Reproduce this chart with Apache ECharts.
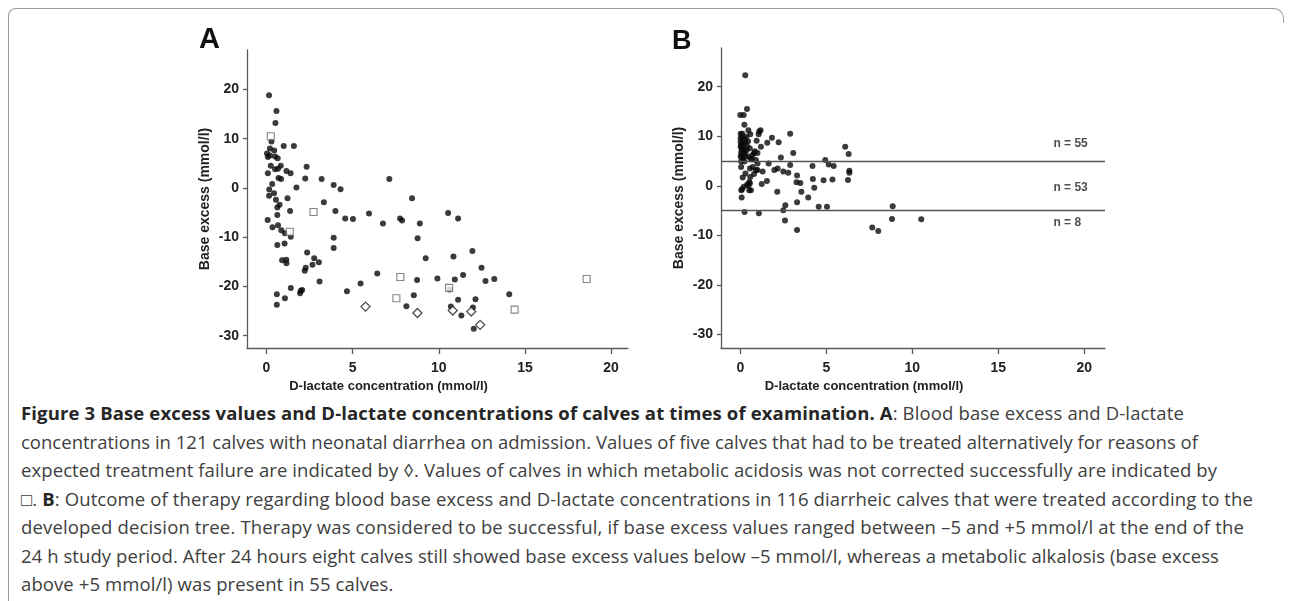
<!DOCTYPE html>
<html><head><meta charset="utf-8">
<script src="https://cdn.jsdelivr.net/npm/echarts@6/dist/echarts.min.js"></script>
<style>
html,body{margin:0;padding:0;background:#fff;}
#wrap{position:relative;width:1292px;height:601px;overflow:hidden;background:#fff;}
#chart{position:absolute;left:0;top:0;width:1292px;height:400px;}
#frame{position:absolute;left:8px;top:8px;width:1262px;height:700px;border-top:1px solid #9a9a9a;border-left:1px solid #9a9a9a;border-top-left-radius:8px;}
#corner{position:absolute;left:1270px;top:8px;width:13px;height:14px;border-top:1px solid #9a9a9a;border-right:1px solid #9a9a9a;border-top-right-radius:10px;}
.cap{position:absolute;left:21px;white-space:nowrap;font-family:'Open Sans',sans-serif;font-size:18.5px;line-height:22px;color:#404040;}
.cap b{color:#262626;}
</style></head>
<body><div id="wrap"><div id="frame"></div><div id="corner"></div><div id="chart"></div><div id="caption"></div></div>
<script>
// ---- tick labels ----
const xTicks = [0, 5, 10, 15, 20];
const yTicks = [-30, -20, -10, 0, 10, 20];
const xTitle = 'D-lactate concentration (mmol/l)';
const yTitle = 'Base excess (mmol/l)';
const panelLetters = ['A', 'B'];

// ---- Panel A: admission values [D-lactate, base excess] ----
const aDots = [
 [0.15,18.8],[0.58,15.6],[0.52,13.2],[0.29,9.4],[1.0,8.5],[1.59,8.5],[0.2,8.0],[0.45,7.6],[0.03,7.0],[0.2,6.6],
 [0.5,6.4],[0.65,6.0],[0.08,6.3],[0.25,4.5],[0.83,4.5],[0.67,3.9],[0.5,3.8],[1.16,3.45],[1.4,3.0],[0.08,3.0],
 [0.7,2.0],[0.85,1.8],[2.33,4.3],[2.25,1.9],[3.2,1.8],[3.9,0.6],[4.3,-0.27],[7.13,1.8],[8.45,-2.1],[0.33,0.8],
 [1.74,0.1],[0.16,-0.3],[0.44,-1.1],[0.15,-1.6],[0.55,-2.4],[0.76,-3.4],[0.63,-4.0],[1.22,-2.1],[3.33,-2.9],[1.37,-4.7],
 [0.63,-5.5],[0.07,-6.5],[0.67,-7.6],[0.35,-8.0],[0.86,-8.6],[1.07,-9.2],[1.41,-9.9],[4.0,-4.7],[4.57,-6.2],[5.02,-6.3],
 [5.95,-5.2],[6.76,-7.2],[7.75,-6.2],[7.87,-6.6],[8.9,-7.2],[8.77,-10.2],[9.24,-14.3],[3.9,-10.1],[3.9,-12.2],[2.36,-13.1],
 [2.77,-14.3],[3.04,-15.1],[2.67,-15.6],[2.28,-16.2],[2.22,-16.8],[0.63,-11.6],[1.05,-11.3],[0.91,-14.7],[1.15,-14.6],[1.16,-15.3],
 [3.08,-19.0],[1.41,-20.3],[1.99,-20.9],[1.95,-21.4],[2.07,-20.7],[0.6,-21.6],[1.07,-22.4],[0.6,-23.7],[4.67,-21.0],[5.46,-19.4],
 [6.43,-17.4],[8.12,-24.0],[8.74,-18.7],[8.55,-21.8],[10.54,-5.1],[11.12,-6.2],[10.85,-13.9],[11.95,-12.8],[12.48,-16.2],[9.92,-18.4],
 [10.93,-18.6],[11.41,-17.7],[12.71,-18.9],[13.22,-18.5],[10.63,-20.6],[14.09,-21.6],[11.12,-22.7],[12.13,-22.6],[10.7,-24.1],[11.31,-25.9],
 [11.98,-24.3],[12.03,-28.6]
];
const aSquares = [[0.25,10.5],[2.73,-4.9],[1.35,-8.9],[7.77,-18.1],[7.54,-22.4],[10.6,-20.3],[14.4,-24.7],[18.58,-18.5]];
const aDiamonds = [[5.75,-24.1],[8.76,-25.4],[10.81,-24.9],[11.88,-25.1],[12.4,-27.8]];

// ---- Panel B: outcome after 24 h ----
const bDots = [
 [0.29,22.3],[0.39,15.5],[0.0,14.3],[0.2,14.3],[0.24,12.3],[0.47,11.2],[0.58,10.4],[1.1,10.95],[1.18,11.2],[1.07,10.4],
 [1.84,9.7],[2.9,10.5],[1.57,8.7],[2.23,8.8],[0.95,9.1],[1.2,7.9],[3.08,6.6],[2.36,5.7],[6.1,7.9],[6.3,6.4],
 [4.94,5.2],[0.02,10.5],[0.12,10.5],[0.02,9.6],[0.24,9.5],[0.02,8.9],[0.12,8.6],[0.3,8.8],[0.02,7.9],[0.12,7.6],
 [0.37,7.2],[0.05,6.7],[0.24,6.6],[0.02,5.9],[0.12,5.7],[0.47,5.9],[0.72,6.2],[0.81,6.6],[1.0,6.6],[0.68,5.3],
 [0.91,5.2],[0.1,9.9],[0.35,9.9],[0.05,8.3],[0.2,8.2],[0.4,8.0],[0.08,7.3],[0.25,7.0],[0.55,7.6],[0.1,6.2],
 [0.3,6.0],[0.6,5.5],[0.15,5.3],[0.85,7.0],[0.45,9.0],
 [1.65,4.5],[5.14,4.3],[5.43,4.0],[4.2,4.0],[2.9,4.2],[2.17,3.5],[1.98,3.2],[2.5,2.9],[2.79,2.65],[3.3,2.1],
 [6.34,3.05],[6.34,2.65],[6.26,1.2],[4.22,1.36],[4.84,1.15],[5.36,1.3],[3.27,0.74],[3.49,0.6],[4.3,-0.4],[3.55,-1.2],
 [2.15,-1.2],[3.95,-2.35],[3.3,-3.3],[4.56,-4.2],[5.04,-4.2],[2.62,-3.9],[2.5,-4.9],[8.86,-4.1],[0.05,4.9],[0.24,4.9],
 [0.56,3.5],[1.0,3.2],[0.72,3.8],[0.05,3.8],[0.14,1.7],[0.58,1.8],[0.52,0.8],[0.48,0.1],[0.62,-0.9],[0.1,-0.7],
 [0.06,-0.9],[0.08,-2.35],[1.25,0.35],[1.55,1.0],[1.0,4.5],[0.91,3.2],[0.39,0.2],[0.56,0.5],[0.52,-0.9],[0.3,2.5],
 [0.8,2.4],[0.2,-0.2],[1.3,2.9],
 [0.25,-5.27],[1.08,-5.54],[2.6,-7.0],[3.3,-8.9],[7.67,-8.4],[8.02,-9.1],[8.82,-6.7],[10.52,-6.75]
];
const bCutoffs = [5, -5];
const bCountLabels = ['n = 55', 'n = 53', 'n = 8'];
const bCountPos = [[18.2, 8.5], [18.2, -0.3], [18.2, -7.4]];

// ---- caption ----
const captionLines = [
 '<b>Figure 3 Base excess values and D-lactate concentrations of calves at times of examination. A</b>: Blood base excess and D-lactate',
 'concentrations in 121 calves with neonatal diarrhea on admission. Values of five calves that had to be treated alternatively for reasons of',
 'expected treatment failure are indicated by \u25CA. Values of calves in which metabolic acidosis was not corrected successfully are indicated by',
 '\u25A1. <b>B</b>: Outcome of therapy regarding blood base excess and D-lactate concentrations in 116 diarrheic calves that were treated according to the',
 'developed decision tree. Therapy was considered to be successful, if base excess values ranged between \u20135 and +5 mmol/l at the end of the',
 '24 h study period. After 24 hours eight calves still showed base excess values below \u20135 mmol/l, whereas a metabolic alkalosis (base excess',
 'above +5 mmol/l) was present in 55 calves.'
];
const captionRightEdges = [1184, 1198, 1217, 1253, 1244, 1219, 0];
const capEl = document.getElementById('caption');
const capDivs = [];
captionLines.forEach(function (t, i) {
  const d = document.createElement('div');
  d.className = 'cap';
  d.style.top = (402 + i * 28.5) + 'px';
  d.innerHTML = t;
  capEl.appendChild(d);
  capDivs.push(d);
});
let lsSum = 0, lsN = 0;
capDivs.forEach(function (d, i) {
  const target = captionRightEdges[i];
  if (!target) return;
  const w = d.getBoundingClientRect().width;
  const n = d.textContent.length;
  const ls = (target - 21 - w) / n;
  d.style.letterSpacing = ls + 'px';
  lsSum += ls; lsN++;
});
capDivs.forEach(function (d, i) {
  if (!captionRightEdges[i]) d.style.letterSpacing = (lsSum / lsN) + 'px';
});

const FONT = 'Liberation Sans, Arial, sans-serif';
const axisCol = '#5a5a5a';
function xAxisCfg(idx, mn, mx) {
  return {
    type: 'value', gridIndex: idx, min: mn, max: mx,
    name: xTitle, nameLocation: 'middle', nameGap: 31,
    nameTextStyle: {fontFamily: FONT, fontWeight: 'bold', fontSize: 13, color: '#222', padding: [0, 98, 0, 0]},
    axisLine: {show: true, onZero: false, lineStyle: {color: axisCol, width: 1.3}},
    axisTick: {show: true, length: 6, customValues: xTicks, lineStyle: {color: axisCol, width: 1.3}},
    axisLabel: {customValues: xTicks, fontFamily: FONT, fontWeight: 'bold', fontSize: 14, color: '#222', margin: 13},
    splitLine: {show: false}
  };
}
function yAxisCfg(idx, mn, mx) {
  return {
    type: 'value', gridIndex: idx, min: mn, max: mx,
    name: yTitle, nameLocation: 'middle', nameGap: 35,
    nameTextStyle: {fontFamily: FONT, fontWeight: 'bold', fontSize: 14, color: '#222'},
    axisLine: {show: true, onZero: false, lineStyle: {color: axisCol, width: 1.3}},
    axisTick: {show: true, length: 4, customValues: yTicks, lineStyle: {color: axisCol, width: 1.3}},
    axisLabel: {customValues: yTicks, fontFamily: FONT, fontWeight: 'bold', fontSize: 14, color: '#222', margin: 8},
    splitLine: {show: false}
  };
}

const chart = echarts.init(document.getElementById('chart'), null, {renderer: 'canvas'});
chart.setOption({
  animation: false,
  backgroundColor: 'transparent',
  title: [
    {text: panelLetters[0], left: 199, top: 25, padding: 0, textStyle: {fontFamily: FONT, fontWeight: 'bold', fontSize: 29, color: '#111'}},
    {text: panelLetters[1], left: 672, top: 28, padding: 0, textStyle: {fontFamily: FONT, fontWeight: 'bold', fontSize: 27, color: '#111'}}
  ],
  grid: [
    {left: 247, top: 50, width: 381, height: 298},
    {left: 721, top: 48, width: 384, height: 300}
  ],
  xAxis: [xAxisCfg(0, -1.13, 20.98), xAxisCfg(1, -1.12, 21.2)],
  yAxis: [yAxisCfg(0, -32.5, 28.0), yAxisCfg(1, -32.7, 27.8)],
  series: [
    {type: 'scatter', xAxisIndex: 0, yAxisIndex: 0, data: aDots, symbol: 'circle', symbolSize: 6,
     itemStyle: {color: '#0a0a0a'}},
    {type: 'scatter', xAxisIndex: 0, yAxisIndex: 0, data: aSquares, symbol: 'rect', symbolSize: 7,
     itemStyle: {color: '#fff', borderColor: '#666', borderWidth: 1.1}},
    {type: 'scatter', xAxisIndex: 0, yAxisIndex: 0, data: aDiamonds, symbol: 'diamond', symbolSize: [9, 9],
     itemStyle: {color: '#fff', borderColor: '#222', borderWidth: 1.3}},
    {type: 'scatter', xAxisIndex: 1, yAxisIndex: 1, data: bDots, symbol: 'circle', symbolSize: 6,
     itemStyle: {color: '#0a0a0a'},
     markLine: {silent: true, symbol: 'none', label: {show: false},
       lineStyle: {color: '#555', width: 1.3, type: 'solid'},
       data: bCutoffs.map(function (v) { return {yAxis: v}; })}},
    {type: 'scatter', xAxisIndex: 1, yAxisIndex: 1, symbolSize: 0, silent: true,
     data: bCountPos.map(function (p, i) { return {value: p, name: bCountLabels[i]}; }),
     label: {show: true, position: 'right', distance: 0, formatter: '{b}', fontFamily: FONT, fontWeight: 'bold', fontSize: 12, color: '#222'}}
  ]
});
</script></body></html>
